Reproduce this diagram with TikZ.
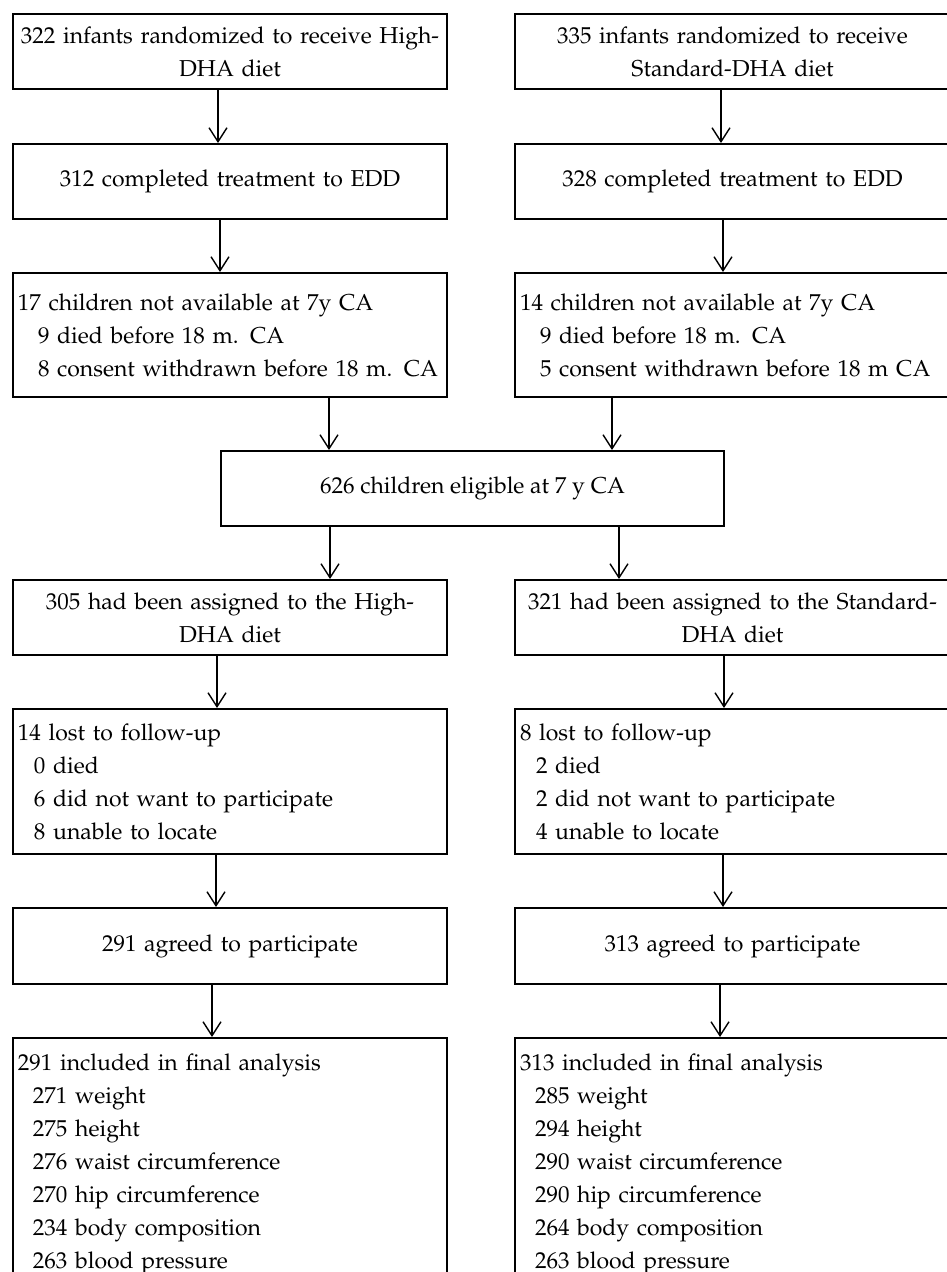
\documentclass[tikz,border=0pt]{standalone}
\usepackage[T1]{fontenc}
\usepackage{mathpazo}
\usetikzlibrary{arrows.meta}

\begin{document}
\begin{tikzpicture}[x=0.5pt, y=-0.5pt, >={Straight Barb[length=7pt,width=9pt]},
  every node/.style={font=\fontsize{11.5pt}{16.5pt}\selectfont},
  box/.style={draw, line width=1pt, inner sep=0pt, align=center, minimum height=37.5pt},
  lbox/.style={box, text width=217pt, minimum width=217pt},
  rbox/.style={box, text width=217.5pt, minimum width=217.5pt},
  llist/.style={box, align=left, inner xsep=2.5pt, text width=212pt},
  rlist/.style={box, align=left, inner xsep=2.5pt, text width=212.5pt},
  arr/.style={->, line width=0.7pt}]
  \useasboundingbox (0,0) rectangle (946,1272);
  % randomized
  \node[lbox] (high1) at (230,51.5) {322 infants randomized to receive High-\\DHA diet};
  \node[rbox] (std1) at (732.5,51.5) {335 infants randomized to receive\\Standard-DHA diet};
  % treatment to EDD
  \node[lbox] (high2) at (230,181.5) {312 completed treatment to EDD};
  \node[rbox] (std2) at (732.5,181.5) {328 completed treatment to EDD};
  % not available
  \node[llist, minimum height=62pt] (high3) at (230,335) {17 children not available at 7y CA\\
    \hspace*{10pt}9 died before 18 m. CA\\
    \hspace*{10pt}8 consent withdrawn before 18 m. CA};
  \node[rlist, minimum height=62pt] (std3) at (732.5,335) {14 children not available at 7y CA\\
    \hspace*{10pt}9 died before 18 m. CA\\
    \hspace*{10pt}5 consent withdrawn before 18 m CA};
  % eligible
  \node[box, minimum width=251.5pt] (elig) at (472.5,488.5) {626 children eligible at 7 y CA};
  % assigned
  \node[lbox] (high5) at (230,617.5) {305 had been assigned to the High-\\DHA diet};
  \node[rbox] (std5) at (732.5,617.5) {321 had been assigned to the Standard-\\DHA diet};
  % lost to follow-up
  \node[llist, minimum height=72.5pt] (high6) at (230,781.5) {14 lost to follow-up\\
    \hspace*{8pt}0 died\\
    \hspace*{8pt}6 did not want to participate\\
    \hspace*{8pt}8 unable to locate};
  \node[rlist, minimum height=72.5pt] (std6) at (732.5,781.5) {8 lost to follow-up\\
    \hspace*{8pt}2 died\\
    \hspace*{8pt}2 did not want to participate\\
    \hspace*{8pt}4 unable to locate};
  % agreed
  \node[lbox, minimum height=38pt] (high7) at (230,946) {291 agreed to participate};
  \node[rbox, minimum height=38pt] (std7) at (732.5,946) {313 agreed to participate};
  % final analysis
  \node[llist, minimum height=126pt] (high8) at (230,1164) {291 included in final analysis\\
    \hspace*{7.5pt}271 weight\\
    \hspace*{7.5pt}275 height\\
    \hspace*{7.5pt}276 waist circumference\\
    \hspace*{7.5pt}270 hip circumference\\
    \hspace*{7.5pt}234 body composition\\
    \hspace*{7.5pt}263 blood pressure};
  \node[rlist, minimum height=126pt] (std8) at (732.5,1164) {313 included in final analysis\\
    \hspace*{7.5pt}285 weight\\
    \hspace*{7.5pt}294 height\\
    \hspace*{7.5pt}290 waist circumference\\
    \hspace*{7.5pt}290 hip circumference\\
    \hspace*{7.5pt}264 body composition\\
    \hspace*{7.5pt}263 blood pressure};
  % Arrows
  \draw[arr] ([xshift=-6pt]high1.south) -- ([xshift=-6pt]high1.south |- high2.north);
  \draw[arr] ([xshift=-5.75pt]std1.south) -- ([xshift=-5.75pt]std1.south |- std2.north);
  \draw[arr] ([xshift=-5pt]high2.south) -- ([xshift=-5pt]high2.south |- high3.north);
  \draw[arr] ([xshift=-4.75pt]std2.south) -- ([xshift=-4.75pt]std2.south |- std3.north);
  \draw[arr] ([xshift=49.5pt]high3.south) -- ([xshift=49.5pt]high3.south |- elig.north);
  \draw[arr] ([xshift=-60.25pt]std3.south) -- ([xshift=-60.25pt]std3.south |- elig.north);
  \draw[arr] ([xshift=-71.25pt]elig.south) -- ([xshift=-71.25pt]elig.south |- high5.north);
  \draw[arr] ([xshift=73.25pt]elig.south) -- ([xshift=73.25pt]elig.south |- std5.north);
  \draw[arr] ([xshift=-6.5pt]high5.south) -- ([xshift=-6.5pt]high5.south |- high6.north);
  \draw[arr] ([xshift=-4.25pt]std5.south) -- ([xshift=-4.25pt]std5.south |- std6.north);
  \draw[arr] ([xshift=-7pt]high6.south) -- ([xshift=-7pt]high6.south |- high7.north);
  \draw[arr] ([xshift=-4.75pt]std6.south) -- ([xshift=-4.75pt]std6.south |- std7.north);
  \draw[arr] ([xshift=-9pt]high7.south) -- ([xshift=-9pt]high7.south |- high8.north);
  \draw[arr] ([xshift=-6.25pt]std7.south) -- ([xshift=-6.25pt]std7.south |- std8.north);
\end{tikzpicture}
\end{document}
